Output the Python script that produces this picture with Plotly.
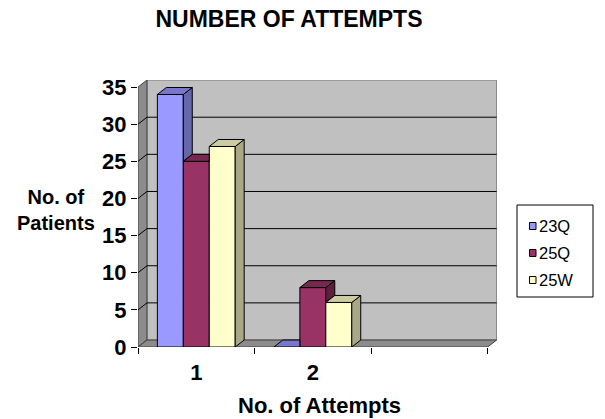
import plotly.graph_objects as go

# ---- data ----
categories = ["1", "2"]
series_names = ["23Q", "25Q", "25W"]
values_23Q = [34, 0]
values_25Q = [25, 8]
values_25W = [27, 6]
y_ticks = [0, 5, 10, 15, 20, 25, 30, 35]

series_values = [values_23Q, values_25Q, values_25W]
front_colors = ["#9999FF", "#993366", "#FFFFCC"]
side_colors = ["#6666AA", "#5E1F3F", "#A8A888"]
top_colors = ["#7777CC", "#772850", "#CCCCA0"]

FONT = "Liberation Sans, Arial, sans-serif"
BARGAP = 0.332
DX = 0.077   # depth offset in x data units
DY = 0.94    # depth offset in y data units
N_SLOTS = 3
YMAX = y_ticks[-1]

xpos = list(range(len(categories)))
group_w = 1 - BARGAP
bar_w = group_w / len(series_names)

W, H = 605, 419
L, R, T, B = 138, 108, 80, 72
pw = W - L - R
ph = H - T - B


def px_x(p):
    return (p - L) / pw


def px_y(p):
    return (H - B - p) / ph


fig = go.Figure()

# ---- walls / floor / gridlines as shapes (below traces) ----
x_left = -0.5
x_right = N_SLOTS - 0.5
shapes = []
shapes.append(dict(type="path", xref="x", yref="y", layer="below",
                   path=f"M {x_left+DX},{DY} L {x_right+DX},{DY} L {x_right+DX},{YMAX+DY} L {x_left+DX},{YMAX+DY} Z",
                   fillcolor="#C0C0C0", line=dict(color="#808080", width=1)))
shapes.append(dict(type="path", xref="x", yref="y", layer="below",
                   path=f"M {x_left},0 L {x_left+DX},{DY} L {x_left+DX},{YMAX+DY} L {x_left},{YMAX} Z",
                   fillcolor="#8C8C8C", line=dict(color="#404040", width=1)))
shapes.append(dict(type="path", xref="x", yref="y", layer="below",
                   path=f"M {x_left},0 L {x_right},0 L {x_right+DX},{DY} L {x_left+DX},{DY} Z",
                   fillcolor="#8C8C8C", line=dict(color="#404040", width=1)))
for t in y_ticks[1:-1]:
    shapes.append(dict(type="line", xref="x", yref="y", layer="below",
                       x0=x_left, y0=t, x1=x_left + DX, y1=t + DY,
                       line=dict(color="black", width=1)))
    shapes.append(dict(type="line", xref="x", yref="y", layer="below",
                       x0=x_left + DX, y0=t + DY, x1=x_right + DX, y1=t + DY,
                       line=dict(color="black", width=1)))

# ---- bar fronts ----
for i, (name, vals) in enumerate(zip(series_names, series_values)):
    fig.add_trace(go.Bar(
        x=xpos, y=vals, name=name, showlegend=False,
        marker=dict(color=front_colors[i], line=dict(color="black", width=1)),
        hoverinfo="skip",
    ))

# ---- 3D side and top faces (computed from data) ----
for i, (name, vals) in enumerate(zip(series_names, series_values)):
    for c, v in enumerate(vals):
        x0 = xpos[c] - group_w / 2 + i * bar_w
        x1 = x0 + bar_w
        nb = series_values[i + 1][c] if i + 1 < len(series_names) else 0
        if nb < v:
            sx = [x1, x1 + DX, x1 + DX, x1, x1]
            sy = [v, v + DY, nb + DY, nb, v]
            fig.add_trace(go.Scatter(x=sx, y=sy, fill="toself", mode="lines",
                                     fillcolor=side_colors[i],
                                     line=dict(color="black", width=1),
                                     showlegend=False, hoverinfo="skip"))
        if nb > v:
            tx = [x0, x1, x1, x0 + DX, x0]
        else:
            tx = [x0, x1, x1 + DX, x0 + DX, x0]
        ty = [v, v, v + DY, v + DY, v]
        fig.add_trace(go.Scatter(x=tx, y=ty, fill="toself", mode="lines",
                                 fillcolor=top_colors[i],
                                 line=dict(color="black", width=1),
                                 showlegend=False, hoverinfo="skip"))

# ---- legend (box, swatches, labels) ----
shapes.append(dict(type="rect", xref="paper", yref="paper",
                   x0=px_x(517), x1=px_x(593), y0=px_y(205), y1=px_y(297),
                   fillcolor="white", line=dict(color="black", width=1)))
legend_rows = [226, 253, 280]
for i, name in enumerate(series_names):
    cy = legend_rows[i]
    shapes.append(dict(type="rect", xref="paper", yref="paper",
                       x0=px_x(529.5), x1=px_x(536), y0=px_y(cy - 3.5), y1=px_y(cy + 3.5),
                       fillcolor=front_colors[i], line=dict(color="black", width=1)))
    fig.add_annotation(text=name, xref="paper", yref="paper",
                       x=px_x(537), y=px_y(cy), xanchor="left", yanchor="middle",
                       showarrow=False, font=dict(size=16.5, family=FONT))

fig.update_layout(
    width=W, height=H,
    margin=dict(l=L, r=R, t=T, b=B),
    paper_bgcolor="white", plot_bgcolor="white",
    barmode="group", bargap=BARGAP, bargroupgap=0,
    shapes=shapes,
    font=dict(family=FONT, color="black"),
    title=dict(text="<b>NUMBER OF ATTEMPTS</b>", font=dict(size=23, family=FONT),
               x=289 / W, xanchor="center", xref="container",
               y=1 - 19 / H, yanchor="middle", yref="container"),
    showlegend=False,
)

fig.update_xaxes(
    range=[-0.5, N_SLOTS - 0.5 + DX + 0.003],
    tickvals=xpos, ticktext=[f"<b>{c}</b>" for c in categories],
    ticks="", tickfont=dict(size=22, family=FONT),
    ticklabelstandoff=10,
    minor=dict(tickvals=[k - 0.5 for k in range(N_SLOTS + 1)], ticks="outside",
               ticklen=6, tickcolor="black", tickwidth=1),
    showgrid=False, zeroline=False, showline=False,
)
fig.update_yaxes(
    range=[0, YMAX + DY + 0.01],
    tickvals=y_ticks, ticktext=[f"<b>{t}</b>" for t in y_ticks],
    ticks="outside", ticklen=6, tickcolor="black",
    tickfont=dict(size=22, family=FONT),
    showgrid=False, zeroline=False, showline=False,
)

fig.add_annotation(text="<b>No. of<br>Patients</b>", xref="paper", yref="paper",
                   x=px_x(56), y=px_y(210), xanchor="center", yanchor="middle",
                   showarrow=False, font=dict(size=20, family=FONT))
fig.add_annotation(text="<b>No. of Attempts</b>", xref="paper", yref="paper",
                   x=px_x(319), y=px_y(405), xanchor="center", yanchor="middle",
                   showarrow=False, font=dict(size=22, family=FONT))

fig.write_html("out.html", config={"displayModeBar": False},
               post_script="document.body.style.margin='0';document.body.style.overflow='hidden';")
